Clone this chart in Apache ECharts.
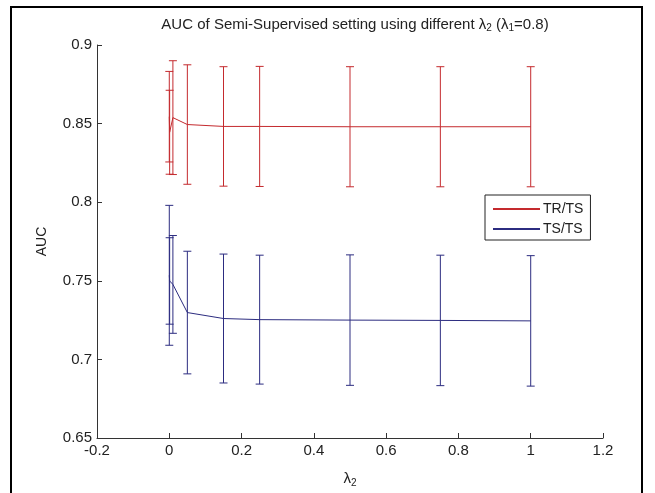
<!DOCTYPE html>
<html>
<head>
<meta charset="utf-8">
<script src="https://cdn.jsdelivr.net/npm/echarts@6/dist/echarts.min.js"></script>
<style>
html,body{margin:0;padding:0;background:#fff;}
#chart{width:655px;height:493px;}
</style>
</head>
<body>
<div id="chart"></div>
<script>
// lambda_2 values (x)
var lambdaValues = [0, 0.001, 0.01, 0.05, 0.15, 0.25, 0.5, 0.75, 1];
// TR/TS series: mean AUC and error half-width
var trtsMean = [0.8544, 0.8445, 0.8538, 0.8494, 0.8482, 0.8482, 0.8480, 0.8480, 0.8480];
var trtsErr  = [0.0288, 0.0267, 0.0362, 0.0380, 0.0380, 0.0382, 0.0382, 0.0382, 0.0382];
// TS/TS series: mean AUC and error half-width
var tstsMean = [0.7535, 0.7499, 0.7477, 0.7298, 0.7260, 0.7253, 0.7250, 0.7248, 0.7245];
var tstsErr  = [0.0445, 0.0275, 0.0311, 0.0390, 0.0410, 0.0410, 0.0415, 0.0415, 0.0415];
// axis tick labels
var xTicks = ['-0.2', '0', '0.2', '0.4', '0.6', '0.8', '1', '1.2'];
var yTicks = ['0.65', '0.7', '0.75', '0.8', '0.85', '0.9'];
var seriesNames = ['TR/TS', 'TS/TS'];

var RED = '#c42a2e';
var BLUE = '#2c2c80';
var FONT = '"Liberation Sans", Arial, sans-serif';

function lineData(means) {
  return lambdaValues.map(function (x, i) { return [x, means[i]]; });
}
function errData(means, errs) {
  return lambdaValues.map(function (x, i) { return [x, means[i], errs[i]]; });
}
function errRender(color) {
  return function (params, api) {
    var x = api.value(0), y = api.value(1), e = api.value(2);
    var top = api.coord([x, y + e]);
    var bot = api.coord([x, y - e]);
    var cw = 4;
    var st = { stroke: color, lineWidth: 1 };
    return {
      type: 'group',
      children: [
        { type: 'line', shape: { x1: top[0], y1: top[1], x2: bot[0], y2: bot[1] }, style: st },
        { type: 'line', shape: { x1: top[0] - cw, y1: top[1], x2: top[0] + cw, y2: top[1] }, style: st },
        { type: 'line', shape: { x1: bot[0] - cw, y1: bot[1], x2: bot[0] + cw, y2: bot[1] }, style: st }
      ]
    };
  };
}
function fmtTick(list, min, step) {
  return function (v) {
    var idx = Math.round((v - min) / step);
    return list[idx] !== undefined ? list[idx] : '';
  };
}

var chart = echarts.init(document.getElementById('chart'), null, { renderer: 'canvas' });
chart.setOption({
  animation: false,
  backgroundColor: '#fff',
  textStyle: { fontFamily: FONT },
  title: {
    text: 'AUC of Semi-Supervised setting using different λ{s|2} (λ{s|1}=0.8)',
    left: 350, top: 12, textAlign: 'center',
    textStyle: {
      fontFamily: FONT, fontSize: 15, fontWeight: 'normal', color: '#222',
      rich: { s: { fontFamily: FONT, fontSize: 10, color: '#222', verticalAlign: 'bottom', padding: [6, 0, 0, 0] } }
    }
  },
  grid: { left: 97, right: 52, top: 45, bottom: 50, containLabel: false },
  legend: {
    data: seriesNames,
    orient: 'vertical',
    left: 485, top: 195,
    padding: [7, 7, 4, 8],
    itemGap: 6,
    itemWidth: 47, itemHeight: 2,
    icon: 'rect',
    borderColor: '#222', borderWidth: 1,
    backgroundColor: '#fff',
    textStyle: { fontFamily: FONT, fontSize: 14, color: '#222', padding: [0, 0, 0, -2] }
  },
  xAxis: {
    type: 'value', min: -0.2, max: 1.2, interval: 0.2,
    name: 'λ{s|2}', nameLocation: 'middle', nameGap: 32,
    nameTextStyle: { fontFamily: FONT, fontSize: 15, color: '#222',
      rich: { s: { fontSize: 10, color: '#222', padding: [8, 0, 0, 0] } } },
    axisLine: { show: true, onZero: false, lineStyle: { color: '#333', width: 1 } },
    axisTick: { show: true, inside: true, length: 5, lineStyle: { color: '#333' } },
    axisLabel: { fontFamily: FONT, fontSize: 15, color: '#222', margin: 5, formatter: fmtTick(xTicks, -0.2, 0.2) },
    splitLine: { show: false }
  },
  yAxis: {
    type: 'value', min: 0.65, max: 0.9, interval: 0.05,
    name: 'AUC', nameLocation: 'middle', nameGap: 48, nameRotate: 90,
    nameTextStyle: { fontFamily: FONT, fontSize: 14, color: '#222' },
    axisLine: { show: true, onZero: false, lineStyle: { color: '#333', width: 1 } },
    axisTick: { show: true, inside: true, length: 5, lineStyle: { color: '#333' } },
    axisLabel: { fontFamily: FONT, fontSize: 15, color: '#222', margin: 5, formatter: fmtTick(yTicks, 0.65, 0.05) },
    splitLine: { show: false }
  },
  graphic: [{
    type: 'rect', silent: true, z: 100,
    shape: { x: 11, y: 7, width: 631, height: 600 },
    style: { fill: 'none', stroke: '#000', lineWidth: 2 }
  }],
  series: [
    { name: seriesNames[0], type: 'line', data: lineData(trtsMean), showSymbol: false, symbol: 'none',
      lineStyle: { color: RED, width: 1 }, itemStyle: { color: RED }, z: 3 },
    { name: seriesNames[1], type: 'line', data: lineData(tstsMean), showSymbol: false, symbol: 'none',
      lineStyle: { color: BLUE, width: 1 }, itemStyle: { color: BLUE }, z: 3 },
    { name: 'TR/TS error', type: 'custom', data: errData(trtsMean, trtsErr), renderItem: errRender(RED), z: 2 },
    { name: 'TS/TS error', type: 'custom', data: errData(tstsMean, tstsErr), renderItem: errRender(BLUE), z: 2 }
  ]
});
</script>
</body>
</html>
